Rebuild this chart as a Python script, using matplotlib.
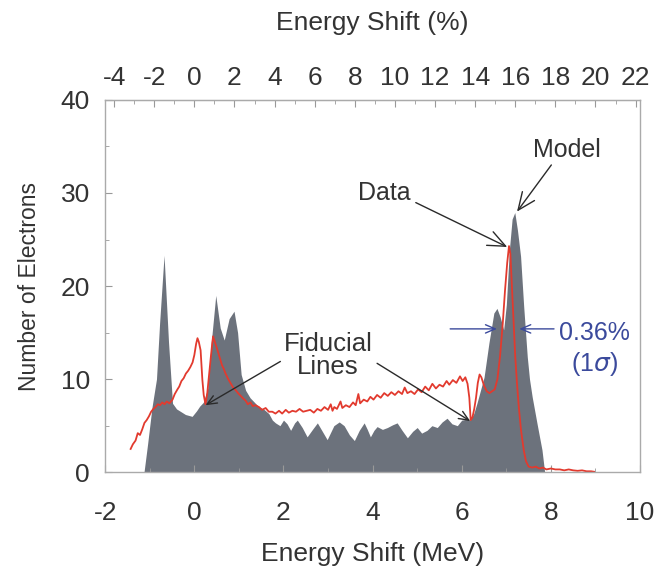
import matplotlib
matplotlib.use("Agg")
import matplotlib.pyplot as plt
from matplotlib.ticker import MultipleLocator

plt.rcParams['font.family'] = ['Liberation Sans', 'DejaVu Sans']
plt.rcParams['axes.unicode_minus'] = False

# model spectrum (grey fill)
model_mev = [-1.13, -1.05, -0.95, -0.85, -0.78, -0.68, -0.58, -0.49, -0.40, -0.30,
             -0.20, -0.05, 0.05, 0.12, 0.20, 0.30, 0.38, 0.48, 0.58, 0.67,
             0.78, 0.89, 0.97, 1.05, 1.15, 1.25, 1.35, 1.45, 1.55, 1.67,
             1.75, 1.82, 1.92, 2.00, 2.08, 2.16, 2.25, 2.31, 2.42, 2.53,
             2.65, 2.76, 2.87, 2.98, 3.06, 3.13, 3.25, 3.36, 3.48, 3.59,
             3.70, 3.81, 3.88, 3.95, 4.03, 4.10, 4.22, 4.33, 4.45, 4.55,
             4.66, 4.78, 4.90, 5.00, 5.10, 5.22, 5.33, 5.45, 5.56, 5.67,
             5.78, 5.90, 6.00, 6.12, 6.19, 6.27, 6.34, 6.42, 6.50, 6.61,
             6.72, 6.79, 6.86, 6.94, 7.00, 7.07, 7.13, 7.19, 7.25, 7.32,
             7.39, 7.47, 7.52, 7.58, 7.69, 7.80, 7.86]
model_counts = [0, 3, 7, 10, 16, 23.3, 14, 7.4, 6.8, 6.5,
                6.2, 6.0, 6.6, 7.1, 7.5, 9, 14, 19.0, 15.5, 14.2,
                16.5, 17.3, 15, 10.5, 8.8, 8.0, 7.5, 7.0, 6.8, 6.3,
                5.6, 5.3, 5.0, 5.6, 5.2, 4.5, 5.3, 5.6, 4.8, 3.8,
                4.6, 5.3, 4.4, 3.5, 4.3, 5.0, 5.4, 5.0, 4.0, 3.4,
                4.5, 5.3, 4.6, 3.8, 4.5, 4.9, 4.6, 4.8, 5.1, 5.3,
                4.5, 3.7, 4.4, 4.8, 4.2, 4.5, 5.0, 4.8, 5.4, 5.8,
                5.2, 5.0, 5.6, 5.7, 5.6, 6.3, 7.4, 8.8, 10.2, 13.9,
                17.1, 17.6, 16.7, 15.3, 18, 24, 27.2, 27.9, 26, 23.2,
                17.8, 12.4, 10, 8.1, 5.2, 2.4, 0]

# measured spectrum (red line)
data_mev = [-1.43, -1.38, -1.32, -1.27, -1.22, -1.17, -1.12, -1.07, -1.02, -0.97,
            -0.92, -0.87, -0.82, -0.77, -0.72, -0.67, -0.62, -0.56, -0.49, -0.44,
            -0.38, -0.34, -0.29, -0.24, -0.19, -0.14, -0.09, -0.04, 0.00, 0.04,
            0.07, 0.10, 0.14, 0.16, 0.18, 0.21, 0.25, 0.29, 0.33, 0.37,
            0.40, 0.42, 0.46, 0.52, 0.57, 0.62, 0.66, 0.70, 0.76, 0.81,
            0.87, 0.93, 0.98, 1.04, 1.10, 1.15, 1.20, 1.26, 1.31, 1.37,
            1.45, 1.52, 1.60, 1.67, 1.75, 1.82, 1.90, 1.97, 2.05, 2.12,
            2.20, 2.28, 2.36, 2.44, 2.52, 2.60, 2.68, 2.76, 2.84, 2.92,
            3.00, 3.06, 3.10, 3.14, 3.20, 3.28, 3.32, 3.40, 3.48, 3.56,
            3.62, 3.68, 3.72, 3.80, 3.88, 3.95, 4.02, 4.10, 4.18, 4.26,
            4.34, 4.42, 4.50, 4.58, 4.66, 4.72, 4.78, 4.86, 4.94, 5.02,
            5.10, 5.18, 5.26, 5.34, 5.42, 5.50, 5.58, 5.66, 5.72, 5.80,
            5.88, 5.96, 6.02, 6.08, 6.13, 6.17, 6.20, 6.24, 6.28, 6.32,
            6.36, 6.40, 6.44, 6.50, 6.56, 6.62, 6.68, 6.74, 6.80, 6.86,
            6.92, 6.97, 7.02, 7.06, 7.09, 7.13, 7.17, 7.20, 7.24, 7.28,
            7.33, 7.39, 7.44, 7.50, 7.58, 7.66, 7.74, 7.82, 7.90, 8.00,
            8.10, 8.20, 8.30, 8.40, 8.50, 8.60, 8.70, 8.80, 8.90, 8.97]
data_counts = [2.5, 3.0, 3.4, 4.2, 4.0, 4.6, 5.3, 5.6, 6.0, 6.5,
               6.8, 7.0, 7.3, 7.2, 7.5, 7.3, 7.6, 7.4, 7.8, 8.4,
               8.9, 9.2, 9.8, 10.1, 10.6, 10.9, 11.3, 11.8, 12.6, 13.8,
               14.4, 14.0, 13.1, 11.5, 9.9, 8.3, 7.3, 8.5, 10.5, 12.4,
               13.8, 14.6, 14.0, 13.1, 12.3, 11.5, 11.1, 10.6, 10.0, 9.6,
               9.1, 8.8, 8.5, 8.2, 7.9, 7.7, 7.3, 7.5, 7.1, 7.2,
               7.0, 6.7, 6.9, 6.5, 6.5, 6.3, 6.6, 6.3, 6.7, 6.4,
               6.6, 6.5, 6.8, 6.5, 6.6, 6.7, 6.4, 6.8, 6.6, 7.0,
               6.7, 7.3, 6.6, 7.0, 6.8, 7.6, 6.9, 7.2, 7.0, 7.5,
               7.2, 8.4, 7.4, 7.8, 7.6, 8.1, 7.8, 8.3, 8.0, 8.5,
               8.2, 8.6, 8.3, 8.7, 8.4, 9.1, 8.5, 8.7, 8.4, 8.9,
               8.6, 9.2, 8.8, 9.5, 9.0, 9.4, 9.2, 9.8, 9.4, 9.9,
               9.6, 10.3, 9.8, 10.2, 9.5, 8.0, 5.6, 5.9, 6.8, 8.0,
               9.6, 10.5, 10.2, 9.3, 8.7, 8.5, 8.7, 8.9, 10.0, 12.5,
               16.0, 19.5, 22.5, 24.3, 23.5, 19.6, 15.5, 12.4, 9.5, 7.0,
               4.5, 2.4, 1.2, 0.6, 0.5, 0.6, 0.4, 0.5, 0.3, 0.4,
               0.3, 0.3, 0.2, 0.3, 0.2, 0.15, 0.2, 0.1, 0.1, 0.05]

MEV_PER_PERCENT = 0.45
text_col = '#333333'

fig = plt.figure(figsize=(6.66, 5.71), dpi=100)
ax = fig.add_axes([0.158, 0.173, 0.803, 0.652])

ax.fill_between(model_mev, model_counts, 0, color='#6c727c', lw=0)
ax.plot(data_mev, data_counts, color='#e23a2e', lw=1.3)

ax.set_xlim(-2, 10)
ax.set_ylim(0, 40)
ax.xaxis.set_major_locator(MultipleLocator(2))
ax.xaxis.set_minor_locator(MultipleLocator(1))
ax.yaxis.set_major_locator(MultipleLocator(10))
ax.yaxis.set_minor_locator(MultipleLocator(5))
ax.tick_params(which='both', direction='in', color='#999999', labelcolor=text_col,
               labelsize=19)
ax.tick_params(which='major', length=5)
ax.tick_params(which='minor', length=3)
ax.tick_params(axis='x', pad=21)
ax.tick_params(axis='y', pad=11)
for s in ax.spines.values():
    s.set_color('#aaaaaa')
    s.set_linewidth(1.0)

ax.set_xlabel('Energy Shift (MeV)', fontsize=19, color=text_col, labelpad=12)
ax.set_ylabel('Number of Electrons', fontsize=16.5, color=text_col, labelpad=14)

top = ax.secondary_xaxis('top', functions=(lambda e: e / MEV_PER_PERCENT,
                                           lambda p: p * MEV_PER_PERCENT))
top.set_xticks(range(-4, 23, 2))
top.xaxis.set_minor_locator(MultipleLocator(1))
top.tick_params(which='both', direction='in', color='#999999', labelcolor=text_col,
                labelsize=19, pad=7)
top.tick_params(which='major', length=5)
top.tick_params(which='minor', length=3)
top.spines['top'].set_color('#aaaaaa')
top.set_xlabel('Energy Shift (%)', fontsize=19, color=text_col, labelpad=26)

arrow_k = dict(arrowstyle='->,head_length=0.7,head_width=0.3', color='#2a2a2a', lw=1.0,
               shrinkA=0, shrinkB=0)
ax.annotate('Model', xy=(7.24, 28.0), xytext=(8.36, 34.6), ha='center', va='center',
            fontsize=18, color=text_col, arrowprops=dict(arrow_k, relpos=(0.3, 0)))
ax.annotate('Data', xy=(7.02, 24.2), xytext=(4.26, 30.0), ha='center', va='center',
            fontsize=18, color=text_col, arrowprops=dict(arrow_k, relpos=(1.1, 0.1)))
ax.text(3.0, 12.5, 'Fiducial\nLines', ha='center', va='center', fontsize=18.5,
        color=text_col, linespacing=0.95)
ax.annotate('', xy=(0.25, 7.2), xytext=(1.93, 11.9), arrowprops=arrow_k)
ax.annotate('', xy=(6.19, 5.5), xytext=(4.1, 11.7), arrowprops=arrow_k)

blue = '#3b4a9c'
arrow_b = dict(arrowstyle='->,head_length=0.7,head_width=0.3', color=blue, lw=1.0,
               shrinkA=0, shrinkB=0)
ax.annotate('', xy=(6.79, 15.4), xytext=(5.74, 15.4), arrowprops=arrow_b)
ax.annotate('', xy=(7.29, 15.4), xytext=(8.07, 15.4), arrowprops=arrow_b)
ax.text(8.97, 15.0, '0.36%', ha='center', va='center', fontsize=18, color=blue)
ax.text(8.97, 11.6, r'(1$\sigma$)', ha='center', va='center', fontsize=18, color=blue)

fig.savefig('out.png', dpi=100)
